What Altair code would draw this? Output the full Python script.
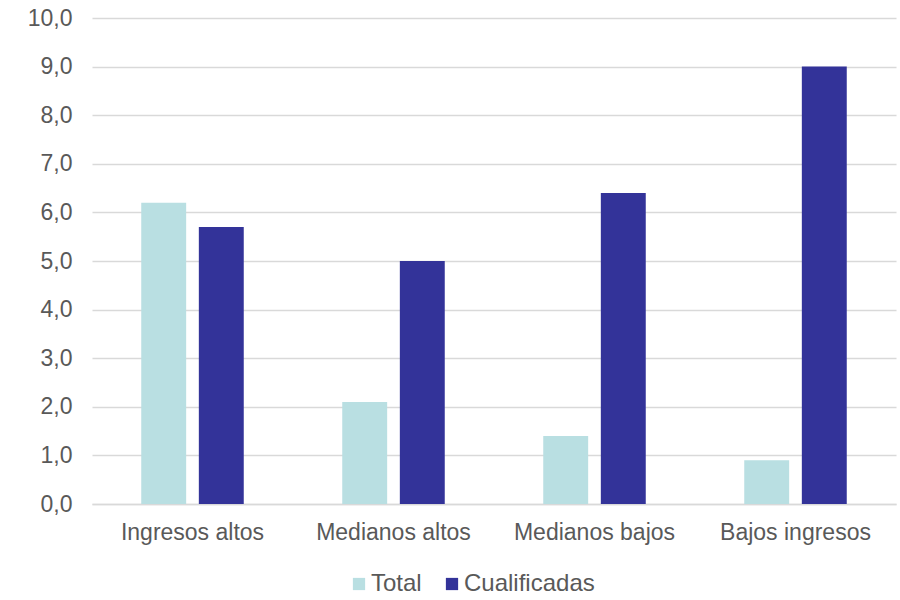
import altair as alt
import pandas as pd

# Income groups and the two series
categorias = ["Ingresos altos", "Medianos altos", "Medianos bajos", "Bajos ingresos"]
total = [6.2, 2.1, 1.4, 0.9]
cualificadas = [5.7, 5.0, 6.4, 9.0]
series = ["Total", "Cualificadas"]
colores = ["#b9dfe2", "#333399"]

rows = []
for c, t, q in zip(categorias, total, cualificadas):
    rows.append({"categoria": c, "serie": "Total", "valor": t})
    rows.append({"categoria": c, "serie": "Cualificadas", "valor": q})
df = pd.DataFrame(rows)

font = "Liberation Sans"
gray = "#595959"
fsize = 23

chart = alt.Chart(df).mark_bar().encode(
    x=alt.X(
        "categoria:N",
        sort=categorias,
        title=None,
        scale=alt.Scale(paddingInner=0.49, paddingOuter=0.245),
        axis=alt.Axis(
            labelAngle=0, labelFont=font, labelFontSize=fsize, labelColor=gray,
            labelPadding=17, ticks=False, domainColor="#d9d9d9", domainWidth=1.5,
            grid=False,
        ),
    ),
    xOffset=alt.XOffset("serie:N", sort=series, scale=alt.Scale(paddingInner=0.22)),
    y=alt.Y(
        "valor:Q",
        title=None,
        scale=alt.Scale(domain=[0, 10]),
        axis=alt.Axis(
            values=list(range(0, 11)), format=".1f", labelExpr="replace(datum.label, '.', ',')",
            labelFont=font, labelFontSize=fsize, labelColor=gray, labelPadding=20,
            ticks=False, domain=False, gridColor="#d9d9d9", gridWidth=1.5,
        ),
    ),
    color=alt.Color(
        "serie:N",
        sort=series,
        scale=alt.Scale(domain=series, range=colores),
        legend=alt.Legend(
            title=None, orient="none", direction="horizontal",
            legendX=255, legendY=554, symbolType="square", symbolSize=150,
            symbolStrokeWidth=0, labelFont=font, labelFontSize=24, labelColor=gray,
            columnPadding=18, labelOffset=0,
        ),
    ),
).properties(
    width=804,
    height=486,
    background="white",
    autosize=alt.AutoSizeParams(type="none"),
    padding={"left": 92, "top": 18, "right": 4, "bottom": 96},
).configure_view(stroke=None)

chart.save("out.html", embed_options={"renderer": "svg", "actions": False})
